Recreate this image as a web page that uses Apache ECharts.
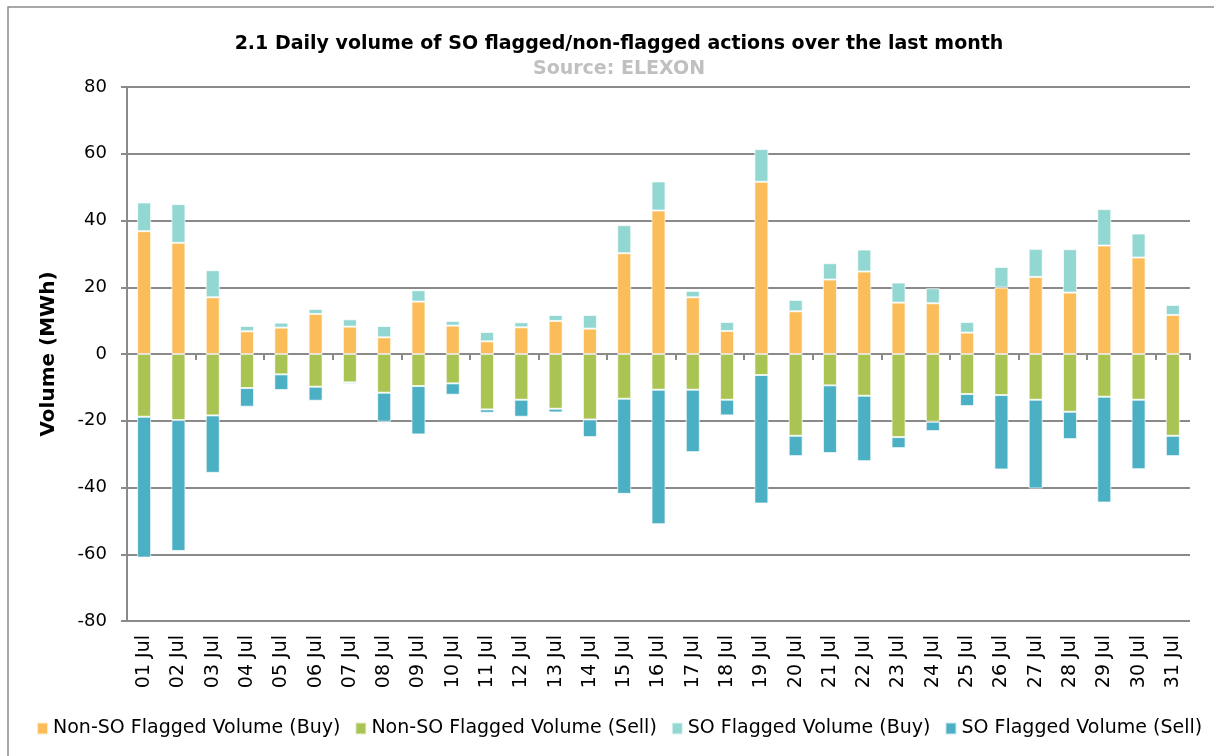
<!DOCTYPE html>
<html><head><meta charset="utf-8">
<script src="https://cdn.jsdelivr.net/npm/echarts@6/dist/echarts.min.js"></script>
<style>html,body{margin:0;padding:0;background:#fff}#c{width:1214px;height:756px}</style>
</head><body><div id="c"></div>
<script>
const categories = ['01 Jul','02 Jul','03 Jul','04 Jul','05 Jul','06 Jul','07 Jul','08 Jul','09 Jul','10 Jul','11 Jul','12 Jul','13 Jul','14 Jul','15 Jul','16 Jul','17 Jul','18 Jul','19 Jul','20 Jul','21 Jul','22 Jul','23 Jul','24 Jul','25 Jul','26 Jul','27 Jul','28 Jul','29 Jul','30 Jul','31 Jul'];
const nonSoBuy  = [36.8,33.3,17.0,6.8,7.9,12.0,8.2,5.0,15.7,8.5,3.8,8.0,9.9,7.6,30.2,43.0,17.0,6.9,51.6,12.8,22.3,24.7,15.4,15.2,6.4,19.9,23.1,18.4,32.5,28.9,11.7];
const nonSoSell = [-18.8,-19.8,-18.4,-10.2,-6.1,-9.8,-8.5,-11.6,-9.6,-8.8,-16.6,-13.7,-16.4,-19.6,-13.4,-10.7,-10.7,-13.7,-6.3,-24.5,-9.4,-12.5,-24.9,-20.3,-12.0,-12.3,-13.7,-17.3,-12.8,-13.7,-24.5];
const soBuy     = [8.6,11.6,8.1,1.6,1.5,1.5,2.2,3.4,3.4,1.4,2.8,1.5,1.8,4.1,8.4,8.7,1.9,2.7,9.8,3.4,4.9,6.6,6.0,4.5,3.2,6.2,8.4,13.0,10.9,7.2,3.0];
const soSell    = [-42.2,-39.2,-17.2,-5.6,-4.7,-4.2,-0.5,-8.7,-14.5,-3.4,-1.0,-5.1,-1.1,-5.3,-28.5,-40.3,-18.7,-4.7,-38.5,-6.1,-20.3,-19.6,-3.3,-2.8,-3.6,-22.3,-26.6,-8.2,-31.7,-20.8,-6.1];
const yTicks = {min:-80, max:80, interval:20};

const FONT = '"DejaVu Sans",sans-serif';
const chart = echarts.init(document.getElementById('c'));
const barBase = {type:'bar', barWidth:14, itemStyle:{borderColor:'rgba(255,255,255,0.7)', borderWidth:1}};
chart.setOption({
  animation:false,
  textStyle:{fontFamily:FONT},
  title:[
    {text:'2.1 Daily volume of SO flagged/non-flagged actions over the last month', top:30, left:614, textAlign:'center',
     textStyle:{fontFamily:FONT, fontSize:19, fontWeight:'bold', color:'#000'}},
    {text:'Source: ELEXON', left:614, textAlign:'center', top:55, textStyle:{fontFamily:FONT, fontSize:19, fontWeight:'bold', color:'#c0c0c0'}}
  ],
  graphic:[{type:'rect', shape:{x:8, y:7, width:1230, height:770}, style:{fill:'none', stroke:'#8c8c8c', lineWidth:1.5}, silent:true}],
  legend:{top:714, left:31, width:1190, itemWidth:11, itemHeight:12, itemGap:14, icon:'rect',
    textStyle:{fontFamily:FONT, fontSize:19, color:'#000'},
    data:['Non-SO Flagged Volume (Buy)','Non-SO Flagged Volume (Sell)','SO Flagged Volume (Buy)','SO Flagged Volume (Sell)']},
  grid:{left:127, right:24, top:87, bottom:135},
  xAxis:[
    {type:'category', data:categories, position:'bottom',
     axisLine:{show:false, onZero:false}, axisTick:{show:false},
     axisLabel:{rotate:90, fontSize:19, color:'#000', margin:14, fontFamily:FONT}},
    {type:'category', data:categories, position:'bottom',
     axisLine:{show:true, onZero:true, lineStyle:{color:'#8a8a8a', width:2}},
     axisTick:{show:true, length:6, lineStyle:{color:'#8a8a8a', width:2}},
     axisLabel:{show:false}}
  ],
  yAxis:{type:'value', min:yTicks.min, max:yTicks.max, interval:yTicks.interval,
    name:'Volume (MWh)', nameLocation:'middle', nameGap:68, nameRotate:90,
    nameTextStyle:{fontFamily:FONT, fontSize:20, fontWeight:'bold', color:'#000'},
    axisLine:{show:true, lineStyle:{color:'#8a8a8a', width:2}},
    axisTick:{show:true, length:6, lineStyle:{color:'#8a8a8a', width:2}},
    axisLabel:{fontSize:18, color:'#000', margin:20, fontFamily:FONT},
    splitLine:{lineStyle:{color:'#8a8a8a', width:2}}},
  series:[
    Object.assign({}, barBase, {name:'Non-SO Flagged Volume (Buy)', stack:'v', data:nonSoBuy, itemStyle:Object.assign({}, barBase.itemStyle, {color:'#fbbd59'})}),
    Object.assign({}, barBase, {name:'Non-SO Flagged Volume (Sell)', stack:'v', data:nonSoSell, itemStyle:Object.assign({}, barBase.itemStyle, {color:'#a9c453'})}),
    Object.assign({}, barBase, {name:'SO Flagged Volume (Buy)', stack:'v', data:soBuy, itemStyle:Object.assign({}, barBase.itemStyle, {color:'#93d7d3'})}),
    Object.assign({}, barBase, {name:'SO Flagged Volume (Sell)', stack:'v', data:soSell, itemStyle:Object.assign({}, barBase.itemStyle, {color:'#4bb0c4'})})
  ]
});
</script></body></html>
